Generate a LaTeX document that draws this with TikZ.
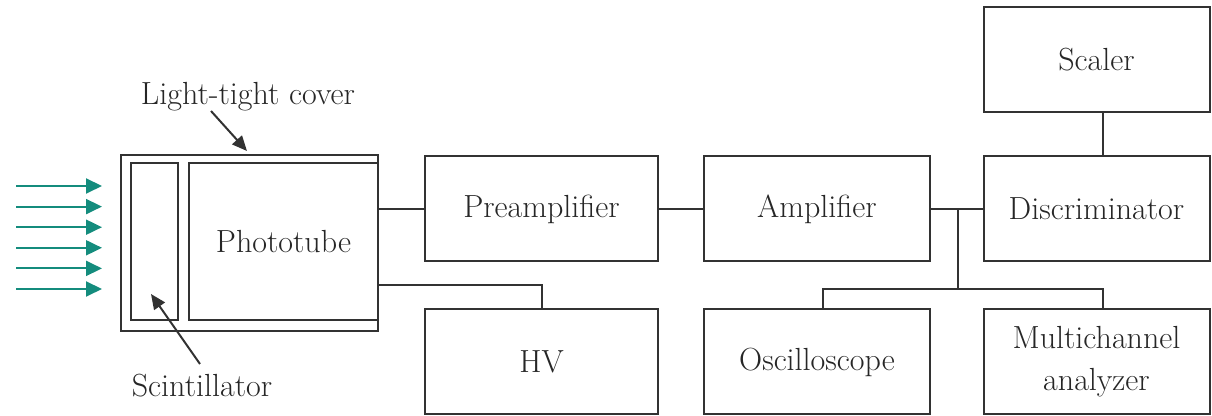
\documentclass[tikz,border=0pt]{standalone}
\usetikzlibrary{arrows.meta}
\definecolor{ink}{RGB}{50,50,50}
\definecolor{raygreen}{RGB}{20,140,125}

\begin{document}
\begin{tikzpicture}[x=0.5pt, y=-0.5pt,
        every node/.style={font=\fontsize{16}{21}\selectfont, text=black!85},
        case/.style={draw=ink, line width=1pt, inner sep=0pt, align=center},
        unit/.style={case, minimum width=113pt, minimum height=52.5pt},
        wire/.style={draw=ink, line width=1pt},
        pointer/.style={draw=ink, line width=1pt, -{Triangle[length=7.5pt, width=6.5pt]}},
        ray/.style={draw=raygreen, line width=1pt, -{Triangle[length=8pt, width=7.5pt]}}]
        \useasboundingbox (0,0) rectangle (1212,416);

        \node[case, minimum width=128.5pt, minimum height=88pt] (cover) at (249.5,243) {};
        \node[case, minimum width=23.5pt, minimum height=78.5pt] (scint) at (154.5,241.5) {};
        \node[case, minimum width=94.5pt, minimum height=78.5pt] (tube) at (283.5,241.5) {Phototube};

        \node[unit, minimum width=116.5pt] (pre) at (541.5,209) {Preamplifier};
        \node[unit, minimum width=116.5pt] (hv) at (541.5,362) {HV};
        \node[unit] (amp) at (817,209) {Amplifier};
        \node[unit] (osc) at (817,362) {Oscilloscope};
        \node[unit] (disc) at (1096.5,209) {Discriminator};
        \node[unit] (mca) at (1096.5,362) {Multichannel\\analyzer};
        \node[unit] (scaler) at (1096.5,60) {Scaler};

        \node (coverlbl) at (248,97) {Light-tight cover};
        \node (scintlbl) at (202,386) {Scintillator};
        \coordinate (covtail) at (211,111);
        \coordinate (covtip) at (247,151);
        \coordinate (scinttail) at (200,364);
        \coordinate (scinttip) at (151,294);
        \draw[pointer] (covtail) -- (covtip);
        \draw[pointer] (scinttail) -- (scinttip);

        \foreach \y in {186,206.6,227.2,247.8,268.4,289}
            \draw[ray] (16,\y) -- (102,\y);

        \draw[wire] (tube.east |- pre.west) -- (pre.west);
        \coordinate (hvtap) at (tube.east |- 0,285);
        \draw[wire] (hvtap) -| (hv.north);
        \draw[wire] (pre) -- (amp);
        \draw[wire] (amp) -- (disc);
        \draw[wire] ([xshift=3pt]scaler.south) -- ([xshift=3pt]disc.north);
        \coordinate (split) at (958,209);
        \coordinate (bus) at (958,289);
        \draw[wire] (split) -- (bus);
        \draw[wire] ([xshift=3pt]osc.north) |- (bus) -| ([xshift=3pt]mca.north);
    \end{tikzpicture}
\end{document}
